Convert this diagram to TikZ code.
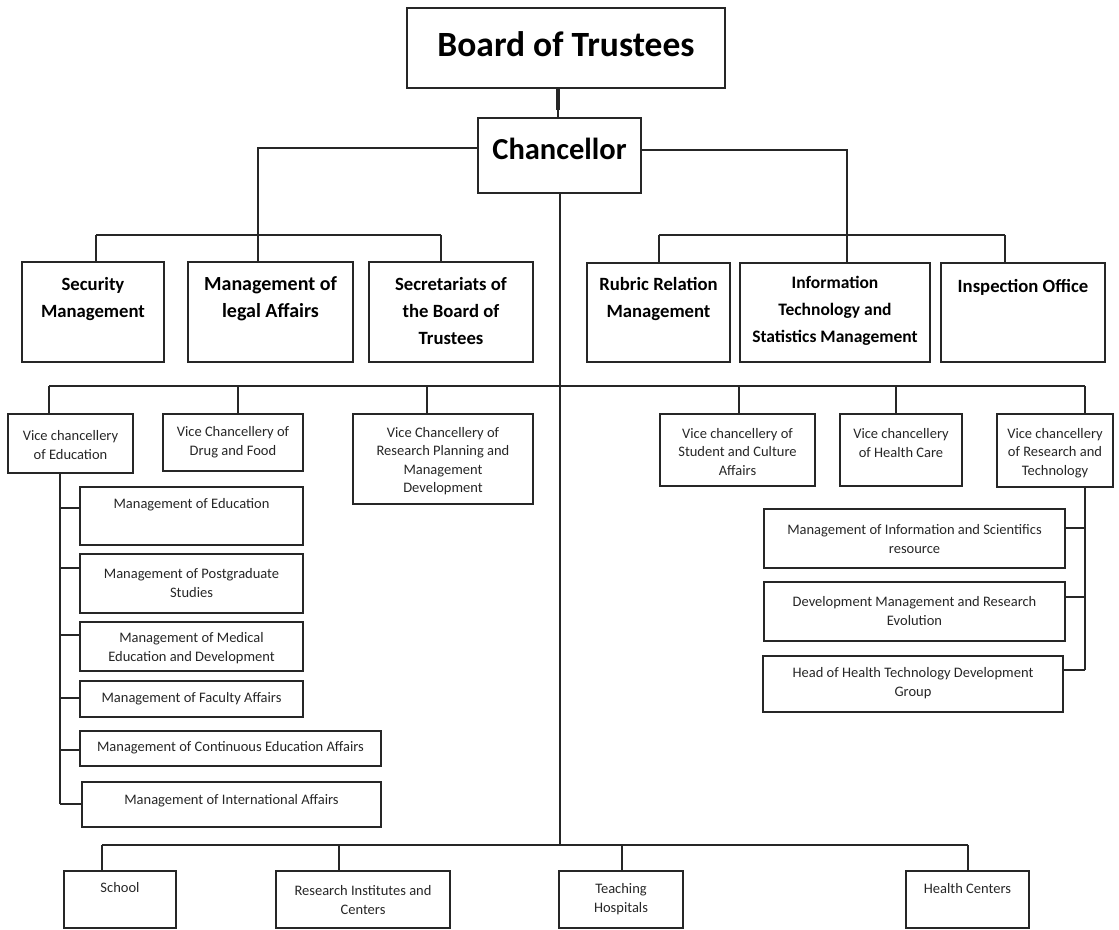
\documentclass[tikz,border=0pt]{standalone}
\usepackage{fontspec}
\setmainfont{Carlito}
\usetikzlibrary{fit,calc}
\begin{document}
\begin{tikzpicture}[x=1pt,y=-1pt,
  box/.style={draw=black!85, line width=1.6pt, inner sep=0pt, outer sep=0pt, rectangle},
  conn/.style={draw=black!85, line width=1.5pt},
  huge/.style={font=\fontsize{35.5}{40}\selectfont\bfseries, text=black, inner sep=0pt},
  big/.style={font=\fontsize{18.7}{27}\selectfont\bfseries, align=center, text=black, inner sep=0pt},
  sm/.style={font=\fontsize{14.5}{18.5}\selectfont, align=center, text=black!85, inner sep=0pt}]
\newcommand\bx[5]{\node[box, fit={(#2,#3) (#4,#5)}] (#1) {};}
\useasboundingbox (0,0) rectangle (1119,929);
% boxes
\bx{board}{407}{8}{725}{88}
\bx{chan}{478}{118}{641}{193}
\bx{secm}{22}{262}{164}{362}
\bx{legal}{188}{262}{353}{362}
\bx{secr}{369}{262}{533}{362}
\bx{rubric}{587}{263}{730}{362}
\bx{itsm}{740}{263}{930}{362}
\bx{insp}{941}{263}{1105}{362}
\bx{ved}{8}{414}{133}{473}
\bx{vdf}{163}{414}{303}{471}
\bx{vrp}{353}{414}{533}{504}
\bx{vsc}{660}{414}{815}{486}
\bx{vhc}{840}{414}{962}{486}
\bx{vrt}{997}{414}{1113}{487}
\bx{m1}{80}{487}{303}{545}
\bx{m2}{80}{554}{303}{613}
\bx{m3}{80}{622}{303}{671}
\bx{m4}{80}{681}{303}{717}
\bx{m5}{80}{731}{381}{766}
\bx{m6}{82}{782}{381}{827}
\bx{r1}{764}{509}{1065}{568}
\bx{r2}{764}{582}{1065}{641}
\bx{r3}{763}{656}{1063}{712}
\bx{school}{64}{871}{176}{928}
\bx{resinst}{276}{871}{450}{928}
\bx{teach}{559}{871}{683}{928}
\bx{hcent}{906}{871}{1029}{928}
% texts
\node[huge] (board-t) at (board.center |- 0,44) {Board of Trustees};
\node[huge, font=\fontsize{30.5}{36}\selectfont\bfseries] (chan-t) at (chan.center |- 0,149) {Chancellor};
\node[big] (secm-t) at (secm.center |- 0,299) {Security\\Management};
\node[big, font=\fontsize{20}{27}\selectfont\bfseries] (legal-t) at (legal.center |- 0,299) {Management of\\legal Affairs};
\node[big] (secr-t) at (secr.center |- 0,311) {Secretariats of\\the Board of\\Trustees};
\node[big] (rubric-t) at (rubric.center |- 0,299) {Rubric Relation\\Management};
\node[big, font=\fontsize{17.5}{27}\selectfont\bfseries] (itsm-t) at (itsm.center |- 0,311) {Information\\Technology and\\Statistics Management};
\node[big] (insp-t) at (insp.center |- 0,287) {Inspection Office};
\node[sm] (ved-t) at (ved.center |- 0,445) {Vice chancellery\\of Education};
\node[sm] (vdf-t) at (vdf.center |- 0,442) {Vice Chancellery of\\Drug and Food};
\node[sm] (vrp-t) at (vrp.center |- 0,461) {Vice Chancellery of\\Research Planning and\\Management\\Development};
\node[sm] (vsc-t) at (vsc.center |- 0,452) {Vice chancellery of\\Student and Culture\\Affairs};
\node[sm] (vhc-t) at (vhc.center |- 0,443) {Vice chancellery\\of Health Care};
\node[sm] (vrt-t) at (vrt.center |- 0,453) {Vice chancellery\\of Research and\\Technology};
\node[sm] (m1-t) at (m1.center |- 0,505) {Management of Education};
\node[sm] (m2-t) at (m2.center |- 0,583) {Management of Postgraduate\\Studies};
\node[sm] (m3-t) at (m3.center |- 0,648) {Management of Medical\\Education and Development};
\node[sm] (m4-t) at (m4.center |- 0,699) {Management of Faculty Affairs};
\node[sm] (m5-t) at (m5.center |- 0,748) {Management of Continuous Education Affairs};
\node[sm] (m6-t) at (m6.center |- 0,801) {Management of International Affairs};
\node[sm] (r1-t) at (r1.center |- 0,539) {Management of Information and Scientifics\\resource};
\node[sm] (r2-t) at (r2.center |- 0,611) {Development Management and Research\\Evolution};
\node[sm] (r3-t) at (r3.center |- 0,683) {Head of Health Technology Development\\Group};
\node[sm] (school-t) at (school.center |- 0,888) {School};
\node[sm] (resinst-t) at (resinst.center |- 0,900) {Research Institutes and\\Centers};
\node[sm] (teach-t) at (teach.center |- 0,899) {Teaching\\Hospitals};
\node[sm] (hcent-t) at (hcent.center |- 0,889) {Health Centers};
% junction coordinates
\coordinate (jL) at (258,235);
\coordinate (jL1) at (96,235);
\coordinate (jL3) at (441,235);
\coordinate (jR) at (847,235);
\coordinate (jR1) at (659,235);
\coordinate (jR3) at (1005,235);
\coordinate (v1) at (49,386);
\coordinate (v2) at (238,386);
\coordinate (v3) at (427,386);
\coordinate (v4) at (739,386);
\coordinate (v5) at (896,386);
\coordinate (v6) at (1085,386);
\coordinate (w1) at (102,845);
\coordinate (w2) at (339,845);
\coordinate (w3) at (622,845);
\coordinate (w4) at (968,845);
\coordinate (lc) at (60,804);
\coordinate (lb1) at (60,508);
\coordinate (lb2) at (60,568);
\coordinate (lb3) at (60,635);
\coordinate (lb4) at (60,698);
\coordinate (lb5) at (60,750);
\coordinate (lb6) at (60,804);
\coordinate (rc) at (1085,670);
\coordinate (rb1) at (1085,528);
\coordinate (rb2) at (1085,597);
\coordinate (rb3) at (1085,670);
% connectors
\draw[conn] ([xshift=-1.5pt]chan.north) -- ([xshift=-1.5pt]chan.north |- board.south);
\draw[conn, line width=3.2pt] ([xshift=-1.5pt]chan.north |- board.south) -- ++(0,22);
\draw[conn, line width=2pt] ([xshift=0.5pt]chan.south) -- ([xshift=0.5pt]chan.south |- w1);
\draw[conn] ([yshift=7.5pt]chan.west) -| (jL);
\draw[conn] ([yshift=5.5pt]chan.east) -| (jR);
\draw[conn] (jL1) -- (jL3);
\draw[conn] (jR1) -- (jR3);
\draw[conn] (jL1) -- (jL1 |- secm.north);
\draw[conn] (jL) -- (jL |- legal.north);
\draw[conn] (jL3) -- (jL3 |- secr.north);
\draw[conn] (jR1) -- (jR1 |- rubric.north);
\draw[conn] (jR) -- (jR |- itsm.north);
\draw[conn] (jR3) -- (jR3 |- insp.north);
\draw[conn] (v1) -- (v6);
\draw[conn] (v1) -- (v1 |- ved.north);
\draw[conn] (v2) -- (v2 |- vdf.north);
\draw[conn] (v3) -- (v3 |- vrp.north);
\draw[conn] (v4) -- (v4 |- vsc.north);
\draw[conn] (v5) -- (v5 |- vhc.north);
\draw[conn] (v6) -- (v6 |- vrt.north);
\draw[conn] (lc |- ved.south) -- (lc);
\draw[conn] (lb1) -- (lb1 -| m1.west);
\draw[conn] (lb2) -- (lb2 -| m2.west);
\draw[conn] (lb3) -- (lb3 -| m3.west);
\draw[conn] (lb4) -- (lb4 -| m4.west);
\draw[conn] (lb5) -- (lb5 -| m5.west);
\draw[conn] (lb6) -- (lb6 -| m6.west);
\draw[conn] (rc |- vrt.south) -- (rc);
\draw[conn] (rb1) -- (rb1 -| r1.east);
\draw[conn] (rb2) -- (rb2 -| r2.east);
\draw[conn] (rb3) -- (rb3 -| r3.east);
\draw[conn] (w1) -- (w4);
\draw[conn] (w1) -- (w1 |- school.north);
\draw[conn] (w2) -- (w2 |- resinst.north);
\draw[conn] (w3) -- (w3 |- teach.north);
\draw[conn] (w4) -- (w4 |- hcent.north);
\end{tikzpicture}
\end{document}
